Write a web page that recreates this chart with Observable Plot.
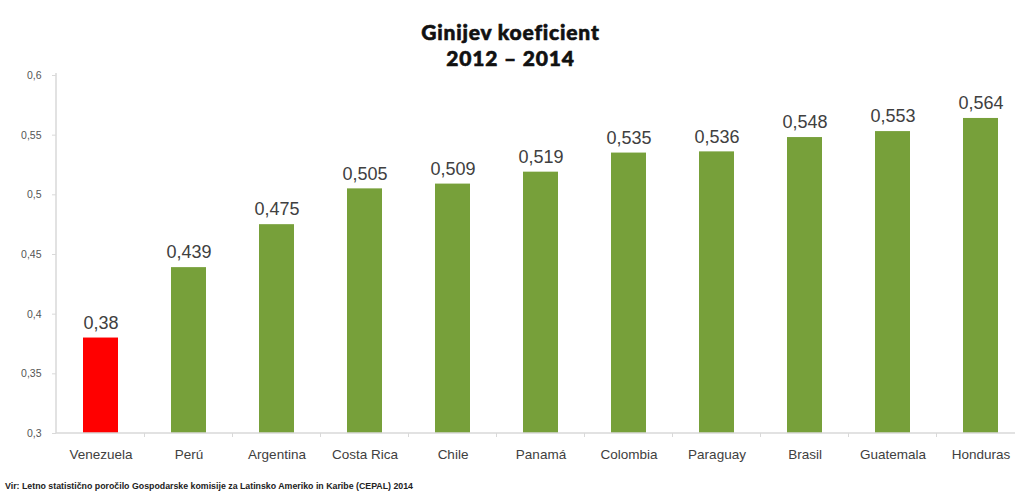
<!DOCTYPE html>
<html><head><meta charset="utf-8">
<script src="https://cdn.jsdelivr.net/npm/d3@7"></script>
<script src="https://cdn.jsdelivr.net/npm/@observablehq/plot@0.6"></script>
<style>
body{margin:0;background:#fff;width:1021px;height:497px;overflow:hidden;position:relative;font-family:Arial,"Liberation Sans",sans-serif}
#chart{position:absolute;left:0;top:0}
.title{position:absolute;left:0;width:1021px;text-align:center;font-family:Lato,"Open Sans",sans-serif;font-weight:900;font-size:21px;line-height:26px;height:26px;color:#111;letter-spacing:0.8px;-webkit-text-stroke:0.6px #111}
#t1{top:19px}
#t2{top:45px}
#caption{position:absolute;left:5px;top:481px;font-size:8.8px;font-weight:bold;color:#222;white-space:nowrap}
</style></head>
<body>
<div id="chart"></div>
<div class="title" id="t1">Ginijev koeficient</div>
<div class="title" id="t2">2012 – 2014</div>
<div id="caption">Vir: Letno statistično poročilo Gospodarske komisije za Latinsko Ameriko in Karibe (CEPAL) 2014</div>
<script>
const countries = ["Venezuela","Perú","Argentina","Costa Rica","Chile","Panamá","Colombia","Paraguay","Brasil","Guatemala","Honduras"];
const gini = [0.38, 0.439, 0.475, 0.505, 0.509, 0.519, 0.535, 0.536, 0.548, 0.553, 0.564];
const yTicks = [0.3, 0.35, 0.4, 0.45, 0.5, 0.55, 0.6];
const highlight = "Venezuela";

const data = countries.map((c, i) => ({country: c, value: gini[i]}));
const comma = v => String(v).replace(".", ",");

const axisLines = (index, scales, values, dims) => {
  const g = d3.create("svg:g");
  const left = dims.marginLeft, bottom = dims.height - dims.marginBottom, top = dims.marginTop;
  g.append("line").attr("x1", left).attr("x2", left).attr("y1", top - 2).attr("y2", bottom)
    .attr("stroke", "#d9d9d9").attr("stroke-width", 1.5);
  g.append("line").attr("x1", left).attr("x2", dims.width - 6).attr("y1", bottom).attr("y2", bottom)
    .attr("stroke", "#d9d9d9").attr("stroke-width", 1.5);
  const x = scales.x, step = x.step(), bw = x.bandwidth();
  countries.forEach(c => {
    const b = x(c) + bw / 2 + step / 2;
    if (b < dims.width - 6) g.append("line").attr("x1", b).attr("x2", b).attr("y1", bottom).attr("y2", bottom + 4)
      .attr("stroke", "#d9d9d9");
  });
  return g.node();
};

const chart = Plot.plot({
  width: 1021,
  height: 497,
  marginTop: 75,
  marginBottom: 64,
  marginLeft: 56,
  marginRight: 0,
  style: {background: "transparent", fontFamily: "Arial, 'Liberation Sans', sans-serif"},
  x: {domain: countries, range: [56, 1025], paddingInner: 0.6, paddingOuter: 0.3, label: null},
  y: {domain: [0.3, 0.6], label: null},
  marks: [
    Plot.barY(data, {x: "country", y1: 0.3, y2: "value",
      fill: d => d.country === highlight ? "#ff0000" : "#77a03a"}),
    axisLines,
    Plot.axisY({ticks: yTicks, tickFormat: comma, tickSize: 4, tickPadding: 11, stroke: "#d9d9d9",
      fill: "#555", fontSize: 10.5, label: null}),
    Plot.axisX({tickSize: 0, tickPadding: 16, fill: "#404040", fontSize: 13.5, label: null}),
    Plot.text(data, {x: "country", y: "value", text: d => comma(d.value), dy: -15,
      fontSize: 18, fill: "#404040"})
  ]
});
document.getElementById("chart").append(chart);
</script>
</body></html>
